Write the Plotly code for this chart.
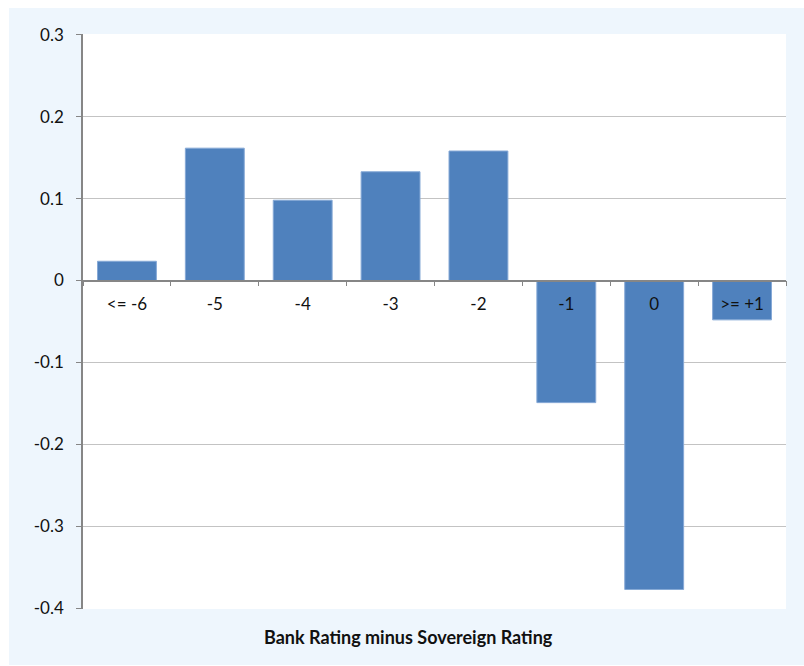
import plotly.graph_objects as go

# Rating gap buckets and the average effect for each
categories = ["<= -6", "-5", "-4", "-3", "-2", "-1", "0", ">= +1"]
values = [0.0235, 0.1615, 0.098, 0.1327, 0.158, -0.149, -0.377, -0.048]

y_ticks = [0.3, 0.2, 0.1, 0, -0.1, -0.2, -0.3, -0.4]
y_tick_text = ["0.3", "0.2", "0.1", "0", "-0.1", "-0.2", "-0.3", "-0.4"]

x_title = "Bank Rating minus Sovereign Rating"

y_min, y_max = -0.4, 0.3
pad = 0.0008
zero_pos = (0 - (y_min - pad)) / ((y_max + pad) - (y_min - pad))

axis_gray = "#868686"
grid_gray = "#C3C3C3"
bar_blue = "#4F81BD"
panel_blue = "#EEF6FD"
font_family = "Lato, 'Open Sans', sans-serif"

fig = go.Figure(
    go.Bar(
        x=categories,
        y=values,
        marker=dict(color=bar_blue, line=dict(color="#86A9D6", width=1)),
        hoverinfo="x+y",
    )
)

fig.update_layout(
    width=804,
    height=666,
    margin=dict(l=83, r=18, t=34, b=57),
    paper_bgcolor="white",
    plot_bgcolor="white",
    bargap=0.33,
    showlegend=False,
    font=dict(family=font_family, size=17, color="#111111"),
    xaxis=dict(
        type="category",
        anchor="free",
        position=zero_pos,
        showline=True,
        linecolor=axis_gray,
        linewidth=1.5,
        ticks="outside",
        tickson="boundaries",
        ticklen=5,
        tickcolor=axis_gray,
        showgrid=False,
        zeroline=False,
        tickfont=dict(size=17),
        ticklabelstandoff=8,
    ),
    yaxis=dict(
        range=[y_min - pad, y_max + pad],
        tickvals=y_ticks,
        ticktext=y_tick_text,
        showline=True,
        linecolor=axis_gray,
        linewidth=1.5,
        ticks="outside",
        ticklen=5,
        tickcolor=axis_gray,
        showgrid=True,
        gridcolor=grid_gray,
        gridwidth=1,
        zeroline=False,
        tickfont=dict(size=17),
        ticklabelstandoff=9,
    ),
    shapes=[
        # light blue chart panel
        dict(
            type="rect",
            xref="paper",
            yref="paper",
            x0=(9 - 83) / 703,
            x1=(804 - 83) / 703,
            y0=(609 - 665) / 575,
            y1=(609 - 8) / 575,
            fillcolor=panel_blue,
            line=dict(width=0),
            layer="below",
        ),
        # white plotting area on top of the panel
        dict(
            type="rect",
            xref="paper",
            yref="paper",
            x0=0,
            x1=1,
            y0=0,
            y1=1,
            fillcolor="white",
            line=dict(width=0),
            layer="below",
        ),
    ],
    annotations=[
        dict(
            text=f"<b>{x_title}</b>",
            xref="paper",
            yref="paper",
            x=(408 - 83) / 703,
            y=(609 - 637) / 575,
            xanchor="center",
            yanchor="middle",
            showarrow=False,
            font=dict(size=18, family=font_family),
        )
    ],
)

fig.write_html("out.html")
